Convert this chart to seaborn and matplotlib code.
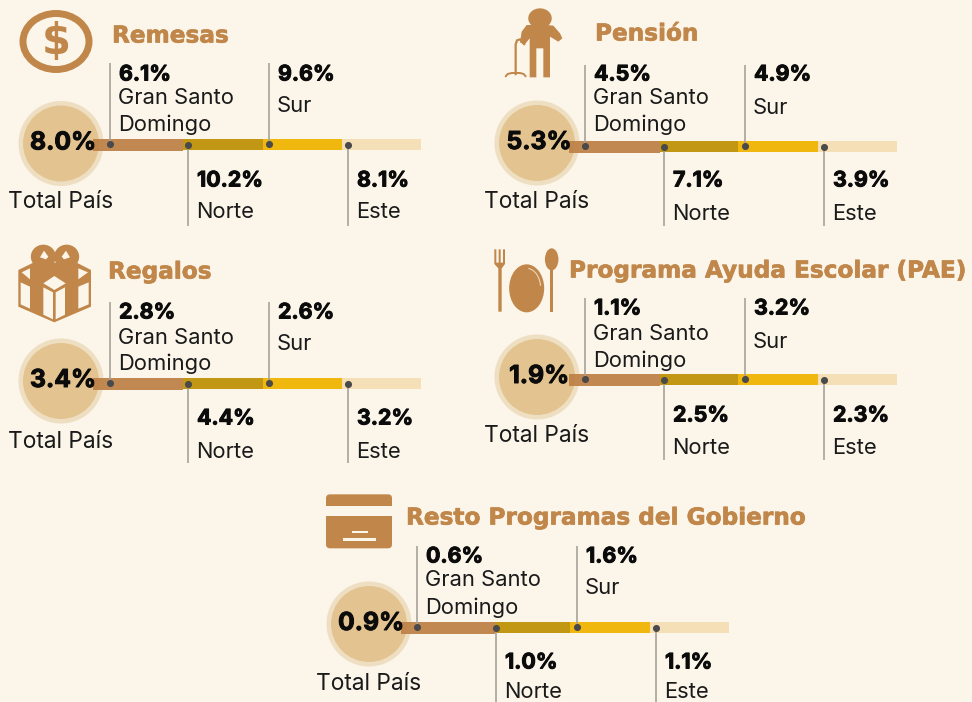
import matplotlib
matplotlib.use("Agg")
import matplotlib.pyplot as plt
from matplotlib.patches import Circle, Ellipse, Polygon, FancyBboxPatch, Arc
import matplotlib.patheffects as pe
import pandas as pd
import seaborn as sns

# ---------- data ----------
titles = ["Remesas", "Pensión", "Regalos", "Programa Ayuda Escolar (PAE)", "Resto Programas del Gobierno"]
total_pais = ["8.0%", "5.3%", "3.4%", "1.9%", "0.9%"]
gran_santo_domingo = ["6.1%", "4.5%", "2.8%", "1.1%", "0.6%"]
norte = ["10.2%", "7.1%", "4.4%", "2.5%", "1.0%"]
sur = ["9.6%", "4.9%", "2.6%", "3.2%", "1.6%"]
este = ["8.1%", "3.9%", "3.2%", "2.3%", "1.1%"]

# ---------- layout (pixels of the 972x702 canvas) ----------
BG, BROWN = "#FBF5EA", "#C1874A"
BAR_BROWN = "#BD8045"
OLIVE, YEL, LIGHT = "#C29714", "#F0B70F", "#F5DFB6"
RING, DISC = "#EFDFC2", "#E3C490"
INK, LINE, DOT = "#0B0B0B", "#A8A399", "#4A4A4A"
FONT = "Inter"

circle_x = [61, 537, 61, 537, 369]
circle_y = [143.5, 143, 381, 377, 624]
bar_top = [139, 141, 378, 374, 622]
line_x = [[110, 188, 269, 348], [585, 664, 745, 824], [110, 188, 269, 348],
          [585, 664, 745, 824], [417, 496, 577, 656]]
seg_x = [[93, 183, 263, 342, 421], [569, 660, 738, 818, 897], [93, 183, 263, 342, 421],
         [569, 660, 738, 818, 897], [401, 495, 570, 650, 729]]
line_top = [63, 65, 302, 298, 546]
line_bot = [226, 226, 463, 460, 702]
val_top_y = [73, 73, 311, 307, 555]
gran_y = [97, 97, 336, 333, 579]
dom_y = [123, 123, 362, 359, 606]
sur_y = [105, 106, 343, 340, 587]
val_bot_y = [179, 179, 417, 414, 661]
name_bot_y = [211, 212, 450, 446, 690]
total_y = [200, 201, 440, 435, 682]
title_x = [112, 595, 108, 569, 406]
title_y = [34, 32, 270, 269, 516]
TEXT_DY = 1.5

sns.set_theme(style="white", rc={"figure.facecolor": BG, "axes.facecolor": BG})
plt.rcParams["font.family"] = [FONT, "DejaVu Sans"]

fig = plt.figure(figsize=(9.72, 7.02), dpi=100, facecolor=BG)
ax = fig.add_axes([0, 0, 1, 1])
ax.set_axis_off()

val_effect = [pe.withStroke(linewidth=0.7, foreground=INK)]
title_effect = [pe.withStroke(linewidth=0.5, foreground=BROWN)]


def bold(x, y, s, size=15.4, **kw):
    ax.text(x, y + TEXT_DY, s, fontsize=size, fontweight="bold", color=INK, va="center", path_effects=val_effect, **kw)


def reg(x, y, s, size=15.8, **kw):
    ax.text(x, y + TEXT_DY, s, fontsize=size, color="#1A1A1A", va="center", **kw)


dots = []
for i in range(5):
    cx, cy = circle_x[i], circle_y[i]
    ax.add_patch(Circle((cx, cy), 42.5, fc=RING, ec="none", zorder=1))
    ax.add_patch(Circle((cx, cy), 38, fc=DISC, ec="none", zorder=1.1))
    for j, (c, a) in enumerate([(BAR_BROWN, 0.93), (OLIVE, 1), (YEL, 1), (LIGHT, 1)]):
        x0, x1 = seg_x[i][j], seg_x[i][j + 1]
        extra = 1 if j == 0 else 0
        ax.barh(bar_top[i] + (11 + extra) / 2, x1 - x0, height=11 + extra, left=x0,
                color=c, alpha=a, zorder=2, linewidth=0)
    lx = line_x[i]
    ydot = bar_top[i] + 5
    ax.vlines(lx[0], line_top[i], ydot, color=LINE, lw=1.2, zorder=3)
    ax.vlines(lx[2], line_top[i], ydot, color=LINE, lw=1.2, zorder=3)
    ax.vlines(lx[1], ydot, line_bot[i], color=LINE, lw=1.2, zorder=3)
    ax.vlines(lx[3], ydot, line_bot[i], color=LINE, lw=1.2, zorder=3)
    for j, x in enumerate(lx):
        dots.append({"x": x, "y": ydot + (1 if j % 2 else 0)})

    bold(cx + 2, cy - 2, total_pais[i], size=17.8, ha="center", zorder=5)
    reg(cx, total_y[i], "Total País", size=16.4, ha="center")
    ax.text(title_x[i], title_y[i] + 2, titles[i], fontsize=16.7, fontweight="bold", color=BROWN,
            va="center", family="DejaVu Sans", path_effects=title_effect)
    bold(lx[0] + 9, val_top_y[i], gran_santo_domingo[i])
    reg(lx[0] + 8, gran_y[i], "Gran Santo")
    reg(lx[0] + 8, dom_y[i], "Domingo")
    bold(lx[2] + 9, val_top_y[i], sur[i])
    reg(lx[2] + 8, sur_y[i], "Sur")
    bold(lx[1] + 9, val_bot_y[i], norte[i])
    reg(lx[1] + 8, name_bot_y[i], "Norte")
    bold(lx[3] + 9, val_bot_y[i], este[i])
    reg(lx[3] + 8, name_bot_y[i], "Este")

sns.scatterplot(data=pd.DataFrame(dots), x="x", y="y", s=26, color=DOT, linewidth=0, zorder=4, ax=ax, legend=False)

# ---------- icons ----------
# dollar coin
ax.add_patch(Ellipse((56, 41.5), 66, 56, fc="none", ec=BROWN, lw=5))
ax.text(56.5, 41.5, "$", fontsize=30, fontweight="bold", color=BROWN, ha="center", va="center", family="DejaVu Sans")


def scaled(ox, oy):
    return lambda pts: [(ox + a / 3, oy + b / 3) for a, b in pts]


# elderly person
p = scaled(495, 5)
ax.add_patch(Ellipse(p([(135, 40)])[0], 23.5, 20, fc=BROWN, ec="none"))
ax.add_patch(Polygon(p([(104, 217), (104, 100), (88, 120), (75, 112), (80, 80), (95, 60), (115, 60), (135, 68),
                        (155, 60), (175, 62), (195, 85), (202, 100), (190, 110), (165, 95), (165, 217), (145, 217),
                        (145, 130), (124, 130), (124, 217)]), fc=BROWN, ec="none"))
cane = p([(62, 208), (62, 118), (66, 106), (76, 103), (88, 118)])
ax.plot(*zip(*cane), color=BROWN, lw=1.6, solid_capstyle="round")
base = p([(32, 214), (38, 207), (50, 204), (75, 204), (86, 207), (92, 214)])
ax.plot(*zip(*base), color=BROWN, lw=1.4, solid_capstyle="round")

# gift box
g = scaled(10, 240)
ax.add_patch(Polygon(g([(25, 90), (70, 68), (200, 68), (243, 90), (243, 200), (133, 247), (25, 200)]),
                     fc=BROWN, ec="none"))
for poly in [
    [(35, 97), (60, 85), (60, 118)],
    [(32, 127), (60, 140), (60, 206), (32, 193)],
    [(100, 130), (133, 108), (167, 130), (133, 150)],
    [(100, 142), (129, 157), (129, 238), (100, 224)],
    [(137, 157), (165, 142), (165, 224), (137, 238)],
    [(205, 85), (234, 97), (205, 118)],
    [(205, 140), (236, 127), (236, 193), (205, 206)],
]:
    ax.add_patch(Polygon(g(poly), fc=BG, ec="none"))
ax.add_patch(Ellipse(g([(100, 50)])[0], 25, 24, fc=BROWN, ec="none"))
ax.add_patch(Ellipse(g([(170, 50)])[0], 25, 24, fc=BROWN, ec="none"))
ax.add_patch(Polygon(g([(90, 52), (102, 32), (115, 50), (108, 58)]), fc=BG, ec="none"))
ax.add_patch(Polygon(g([(180, 52), (168, 32), (155, 50), (162, 58)]), fc=BG, ec="none"))

# cutlery
u = scaled(485, 240)
fork = [(40, 215), (40, 85), (28, 72), (28, 28), (34, 28), (34, 68), (41, 68), (41, 28), (47, 28), (47, 68),
        (54, 68), (54, 28), (60, 28), (60, 72), (50, 85), (50, 215)]
ax.add_patch(Polygon(u(fork), fc=BROWN, ec="none"))
ax.add_patch(Ellipse(u([(125, 145)])[0], 35, 48, fc=BROWN, ec="none"))
ax.add_patch(Arc(u([(125, 145)])[0], 28, 40, theta1=-85, theta2=-10, ec="#EBD5B5", lw=0.8))
ax.add_patch(Ellipse(u([(200, 58)])[0], 13.5, 22, fc=BROWN, ec="none"))
ax.add_patch(Polygon(u([(196, 85), (205, 85), (205, 215), (196, 215)]), fc=BROWN, ec="none"))

# card
c = scaled(300, 480)
ox, oy = c([(78, 43)])[0]
ax.add_patch(FancyBboxPatch((ox, oy), 66, 54, boxstyle="round,pad=0,rounding_size=4", fc=BROWN, ec="none"))
ax.add_patch(Polygon(c([(70, 77), (285, 77), (285, 108), (70, 108)]), fc=BG, ec="none", zorder=2))
ax.add_patch(Polygon(c([(155, 152), (203, 152), (203, 160), (155, 160)]), fc=BG, ec="none", zorder=2))
ax.add_patch(Polygon(c([(128, 174), (227, 174), (227, 184), (128, 184)]), fc=BG, ec="none", zorder=2))

ax.set_xlim(0, 972)
ax.set_ylim(702, 0)
ax.set_xlabel("")
ax.set_ylabel("")
fig.savefig("out.png", dpi=100, facecolor=BG)
